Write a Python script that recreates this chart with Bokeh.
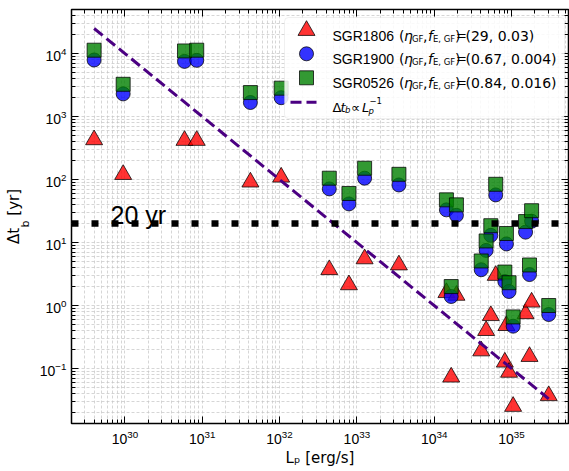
import math
from bokeh.plotting import figure
from bokeh.models import (Range1d, FixedTicker, LogAxis, Span, BoxAnnotation,
                          Label, ColumnDataSource, CustomJSTickFormatter)
from bokeh.embed import file_html
from bokeh.resources import INLINE

# ---------------- data ----------------
L_p = [4.0e29, 9.5e29, 5.9e30, 8.5e30, 4.2e31, 1.05e32, 4.4e32, 7.9e32, 1.26e33,
       3.5e33, 1.44e34, 1.66e34, 1.94e34, 4.06e34, 4.7e34, 5.4e34, 6.25e34,
       8.2e34, 8.6e34, 9.3e34, 1.05e35, 1.52e35, 1.71e35, 1.82e35, 3.03e35]
dt_1806 = [427, 120, 417, 417, 91, 109, 3.7, 2.13, 5.5, 4.4, 1.6, 0.073, 1.45,
           0.19, 0.40, 0.69, 3.0, 0.126, 0.48, 0.087, 0.025, 0.74, 0.155, 1.13, 0.037]
dt_1900 = [7900, 2290, 7500, 7800, 1670, 1990, 71, 41, 105, 82, 33, 1.39, 27,
           3.7, 7.5, 13, 57, 2.4, 9.5, 1.67, 0.47, 14.6, 3.1, 21.8, 0.72]
dt_0526 = [11300, 3250, 11000, 11300, 2400, 2820, 105, 60, 151, 121, 47.6, 2.0, 39.6,
           5.1, 10.6, 18.5, 84, 3.4, 13.9, 2.3, 0.66, 21.5, 4.4, 32, 1.0]
line_L = [4.0e29, 3.03e35]          # Delta t_b ∝ L_p^-1 reference line
line_dt = [2.5e4, 0.033]
t_20yr = 20

legend_names = ["SGR1806", "SGR1900", "SGR0526"]
legend_params = ["(29, 0.03)", "(0.67, 0.004)", "(0.84, 0.016)"]

x_tick_exps = [30, 31, 32, 33, 34, 35]
y_tick_exps = [-1, 0, 1, 2, 3, 4]

X_RANGE = (2.04e29, 5.46e35)
Y_RANGE = (1.34e-2, 5.0e4)

# ---------------- layout ----------------
FW, FH = 497, 414
ML, MT, MR, MB = 71, 9, 1, 48
FL, FT = ML, MT
FR, FB = FL + FW, FT + FH


def px_to_x(px):
    lo, hi = math.log10(X_RANGE[0]), math.log10(X_RANGE[1])
    return 10 ** (lo + (px - FL) / (FR - FL) * (hi - lo))


def py_to_y(py):
    lo, hi = math.log10(Y_RANGE[0]), math.log10(Y_RANGE[1])
    return 10 ** (hi - (py - FT) / (FB - FT) * (hi - lo))


p = figure(x_axis_type="log", y_axis_type="log",
           x_range=Range1d(*X_RANGE), y_range=Range1d(*Y_RANGE),
           frame_width=FW, frame_height=FH,
           min_border_left=ML, min_border_top=MT, min_border_right=MR,
           min_border_bottom=MB,
           output_backend="svg", toolbar_location=None,
           background_fill_color="white", border_fill_color="white")

x_minor = [m * 10.0 ** k for k in range(29, 36) for m in range(2, 10)
           if X_RANGE[0] <= m * 10.0 ** k <= X_RANGE[1]]
y_minor = [m * 10.0 ** k for k in range(-2, 5) for m in range(2, 10)
           if Y_RANGE[0] <= m * 10.0 ** k <= Y_RANGE[1]]
xticker = FixedTicker(ticks=[10.0 ** e for e in x_tick_exps], minor_ticks=x_minor)
yticker = FixedTicker(ticks=[10.0 ** e for e in y_tick_exps], minor_ticks=y_minor)

p.xaxis.ticker = xticker
p.yaxis.ticker = yticker
p.xgrid.ticker = xticker
p.ygrid.ticker = yticker

for ax in (p.xaxis[0], p.yaxis[0]):
    ax.axis_line_color = None
    ax.major_tick_in = 7
    ax.major_tick_out = 0
    ax.minor_tick_in = 4
    ax.minor_tick_out = 0
    ax.major_tick_line_color = "black"
    ax.minor_tick_line_color = "black"
    ax.major_label_text_font = "Liberation Sans"
    ax.major_label_text_font_size = "14px"
    ax.major_label_text_color = "black"
    ax.axis_label_text_font = "DejaVu Sans"
    ax.axis_label_text_font_size = "15px"
    ax.axis_label_text_font_style = "normal"
    ax.axis_label_text_color = "black"
p.xaxis.major_label_standoff = 6
p.yaxis.major_label_standoff = 5
p.xaxis.axis_label = "Lₚ [erg/s]"
p.xaxis.axis_label_standoff = 2
p.yaxis.axis_label = "Δt\u2002 [yr]"
p.yaxis.axis_label_standoff = 14

blank = CustomJSTickFormatter(code="return ' '")
for loc, tk in (("above", xticker), ("right", yticker)):
    ax = LogAxis(ticker=tk, formatter=blank, axis_line_color=None,
                 major_tick_in=7, major_tick_out=0,
                 minor_tick_in=4, minor_tick_out=0, major_label_text_font_size="1px",
                 major_label_text_alpha=0.0,
                 major_label_standoff=0, major_tick_line_color="black",
                 minor_tick_line_color="black")
    p.add_layout(ax, loc)

for g in (p.xgrid[0], p.ygrid[0]):
    g.grid_line_color = "#c4c4c4"
    g.grid_line_alpha = 0.7
    g.grid_line_dash = "3 2"
    g.minor_grid_line_color = "#c4c4c4"
    g.minor_grid_line_alpha = 0.7
    g.minor_grid_line_dash = "3 2"

p.outline_line_color = "black"
p.outline_line_width = 1.5
p.outline_line_alpha = 1.0

src = ColumnDataSource(dict(L=L_p, a=dt_1806, b=dt_1900, c=dt_0526))
style = dict(fill_alpha=0.8, line_color="black", line_alpha=0.75, line_width=1)
p.scatter("L", "a", source=src, marker="triangle", size=17, fill_color="red", **style)
p.scatter("L", "b", source=src, marker="circle", size=14, fill_color="blue", **style)
p.scatter("L", "c", source=src, marker="square", size=14, fill_color="green", **style)
p.line(line_L, line_dt, line_color="indigo", line_width=3, line_dash="11 5")

p.add_layout(Span(location=t_20yr, dimension="width", line_color="black",
                  line_width=6.5, line_dash="7 13"))


def make_text(px, py, text, font="DejaVu Sans", size=14, fstyle="normal",
              align="left", angle=0.0):
    return Label(x=px_to_x(px), y=py_to_y(py), text=text, text_font=font,
                 text_font_size=f"{size}px", text_font_style=fstyle,
                 text_align=align, text_baseline="alphabetic",
                 angle=angle, text_color="black")


def add_text(*args, place="center", **kw):
    p.add_layout(make_text(*args, **kw), place)


add_text(110, 214, "20 yr", font="Liberation Sans", size=25)

# ---------------- legend ----------------
p.add_layout(BoxAnnotation(left=px_to_x(284), right=px_to_x(564),
                           top=py_to_y(17), bottom=py_to_y(118),
                           fill_color="white", fill_alpha=0.85,
                           line_color="#cccccc", line_width=1, border_radius=4))

rows = [30, 53.3, 77.3, 101.7]
mk = [("triangle", 17, "red"), ("circle", 14, "blue"), ("square", 14, "green")]
for i, (m, s, c) in enumerate(mk):
    r = p.scatter([px_to_x(306)], [py_to_y(rows[i])], marker=m, size=s,
                  fill_color=c, **style)
    r.level = "overlay"
r = p.line([px_to_x(290), px_to_x(316)], [py_to_y(rows[3])] * 2,
           line_color="indigo", line_width=3, line_dash="11 5")
r.level = "overlay"

SUB = 8.5
for i in range(3):
    b = rows[i] + 5
    add_text(332, b, legend_names[i], font="Liberation Sans", size=14)
    add_text(398.5, b, "(")
    add_text(403.5, b, "η", fstyle="italic")
    add_text(411.5, b + 3, "GF", size=SUB)
    add_text(422.5, b, ",")
    add_text(427.5, b, "f", fstyle="italic")
    add_text(432.5, b + 3, "E, GF", size=SUB)
    add_text(454.5, b, ")")
    add_text(461, b, "=", size=13, align="center")
    add_text(465, b, legend_params[i])

b = rows[3] + 5
add_text(332, b, "Δ", size=13)
add_text(340, b, "t", size=13, fstyle="italic")
add_text(344.5, b + 3, "b", size=SUB, fstyle="italic")
add_text(350.5, b, "∝", size=13)
add_text(361.5, b, "L", size=13, fstyle="italic")
add_text(368, b + 3.5, "p", size=SUB, fstyle="italic")
add_text(369, b - 6.5, "−1", size=SUB)

# subscript b of the y-axis label (kept in a side panel so it is not clipped)
add_text(25, 227, "b", size=11, angle=math.pi / 2, place="above")

open("out.html", "w").write(file_html(p, INLINE))
